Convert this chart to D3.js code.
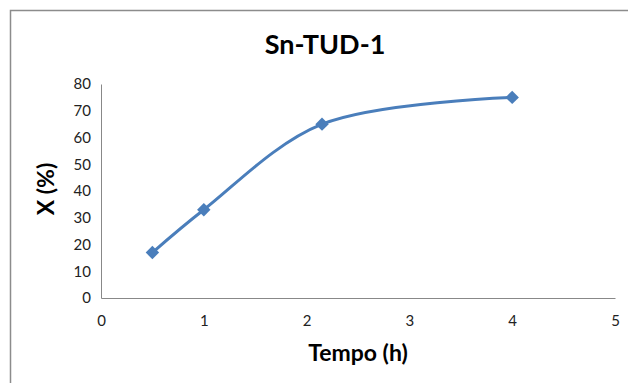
<!DOCTYPE html>
<html>
<head>
<meta charset="utf-8">
<script src="https://cdn.jsdelivr.net/npm/d3@7"></script>
<style>
  body { margin: 0; background: #fff; }
  svg { display: block; }
</style>
</head>
<body>
<div id="chart"></div>
<script>
// data
var tempo = [0.5, 1, 2.15, 4];
var conversao = [17, 33, 65, 75];
var xTicks = [0, 1, 2, 3, 4, 5];
var yTicks = [0, 10, 20, 30, 40, 50, 60, 70, 80];

var W = 628, H = 383;
var margin = {top: 84, right: 13, bottom: 85, left: 101};
var width = W - margin.left - margin.right,
    height = H - margin.top - margin.bottom;

var font = "Lato, 'Open Sans', sans-serif";

var svg = d3.select("#chart").append("svg")
    .attr("width", W).attr("height", H);

// outer chart frame (runs off the right/bottom of the picture)
svg.append("rect")
    .attr("x", 10.5).attr("y", 10.5)
    .attr("width", W + 20).attr("height", H + 20)
    .attr("fill", "none").attr("stroke", "#8c8c8c").attr("stroke-width", 1.5);

svg.append("text")
    .attr("x", 325).attr("y", 54)
    .attr("text-anchor", "middle")
    .style("font-family", font)
    .style("font-weight", "bold").style("font-size", "27px")
    .text("Sn-TUD-1");

var g = svg.append("g")
    .attr("transform", "translate(" + margin.left + "," + margin.top + ")");

var x = d3.scaleLinear().domain([0, 5]).range([0, width]);
var y = d3.scaleLinear().domain([0, 80]).range([height, 0]);

var xAxis = g.append("g")
    .attr("transform", "translate(0," + height + ")")
    .call(d3.axisBottom(x).tickValues(xTicks).tickFormat(d3.format("d")).tickSize(0).tickPadding(17));
var yAxis = g.append("g")
    .call(d3.axisLeft(y).tickValues(yTicks).tickFormat(d3.format("d")).tickSize(0).tickPadding(10));

[xAxis, yAxis].forEach(function (a) {
    a.select(".domain").attr("stroke", "#888").attr("stroke-width", 1);
    a.selectAll("text")
        .style("font-family", font)
        .style("font-size", "15px").attr("fill", "#222");
});

svg.append("text")
    .attr("x", 358).attr("y", 361)
    .attr("text-anchor", "middle")
    .style("font-family", font)
    .style("font-weight", "bold").style("font-size", "23px")
    .text("Tempo (h)");

svg.append("text")
    .attr("transform", "translate(54,189) rotate(-90)")
    .attr("text-anchor", "middle")
    .style("font-family", font)
    .style("font-weight", "bold").style("font-size", "23px")
    .text("X (%)");

var pts = tempo.map(function (t, i) { return [t, conversao[i]]; });

var line = d3.line()
    .x(function (d) { return x(d[0]); })
    .y(function (d) { return y(d[1]); })
    .curve(d3.curveCatmullRom.alpha(0.5));

g.append("path")
    .datum(pts)
    .attr("d", line)
    .attr("fill", "none")
    .attr("stroke", "#4a7ebb")
    .attr("stroke-width", 3);

g.selectAll(".pt")
    .data(pts)
    .enter().append("path")
    .attr("class", "pt")
    .attr("transform", function (d) { return "translate(" + x(d[0]) + "," + y(d[1]) + ")"; })
    .attr("d", d3.symbol().type(d3.symbolDiamond2).size(115))
    .attr("fill", "#4a7ebb");
</script>
</body>
</html>
